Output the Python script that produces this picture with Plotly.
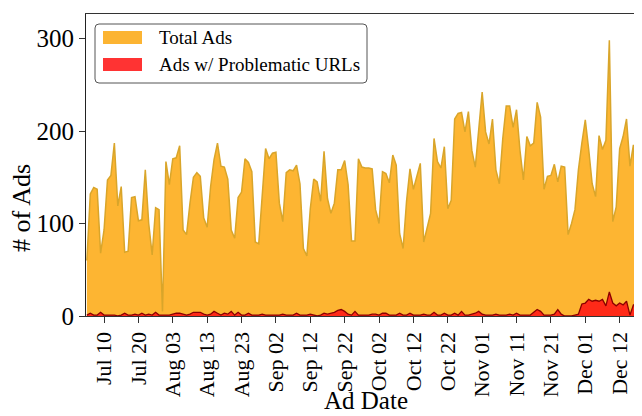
import plotly.graph_objects as go

# daily ad counts, one value per collected day (a few days missing, so x is the day index)
TOTAL_ADS = [
    60, 132, 139, 137, 68, 93, 147, 152, 187, 119,
    140, 69, 70, 128, 129, 103, 104, 158, 100, 66,
    117, 115, 5, 167, 142, 170, 171, 184, 93, 88,
    122, 150, 155, 151, 106, 96, 140, 169, 187, 162,
    161, 148, 93, 84, 128, 134, 170, 166, 156, 80,
    78, 127, 181, 170, 176, 177, 122, 102, 155, 158,
    157, 163, 143, 73, 65, 116, 148, 145, 124, 178,
    127, 111, 122, 158, 158, 168, 142, 81, 81, 170,
    161, 160, 160, 159, 115, 100, 156, 154, 144, 174,
    163, 89, 73, 124, 159, 137, 150, 165, 80, 96,
    111, 192, 167, 160, 183, 116, 125, 213, 219, 220,
    199, 221, 179, 161, 203, 242, 199, 186, 213, 158,
    143, 192, 227, 227, 204, 223, 179, 147, 194, 184,
    187, 231, 215, 137, 151, 152, 164, 145, 162, 161,
    88, 100, 115, 158, 187, 212, 180, 143, 129, 195,
    180, 190, 298, 102, 118, 181, 194, 213, 162, 185,
    129, 124, 140,
]

PROBLEM_ADS = [
    1, 3, 1, 1, 4, 1, 1, 1, 1, 0,
    1, 3, 1, 1, 2, 1, 3, 1, 2, 1,
    4, 1, 1, 1, 1, 2, 3, 3, 2, 1,
    2, 4, 4, 4, 2, 1, 2, 5, 3, 1,
    3, 2, 5, 1, 4, 1, 1, 3, 1, 1,
    1, 2, 1, 1, 1, 1, 1, 2, 1, 1,
    1, 3, 1, 1, 1, 2, 1, 0, 1, 3,
    2, 3, 4, 6, 7, 5, 2, 1, 5, 1,
    1, 1, 1, 2, 2, 1, 3, 3, 1, 1,
    1, 3, 1, 1, 3, 1, 1, 1, 2, 1,
    1, 4, 1, 1, 3, 1, 1, 3, 1, 5,
    1, 1, 2, 3, 5, 2, 1, 1, 1, 2,
    1, 1, 1, 2, 1, 3, 1, 1, 1, 1,
    4, 7, 5, 1, 1, 1, 2, 7, 2, 0,
    0, 0, 1, 2, 13, 14, 18, 16, 17, 16,
    18, 11, 26, 14, 11, 14, 12, 16, 1, 12,
    12, 3, 1,
]

TICK_POS = [5, 15, 25, 35, 45, 55, 65, 75, 85, 95, 105, 115, 125, 135, 145, 155]
TICK_LABELS = ["Jul 10", "Jul 20", "Aug 03", "Aug 13", "Aug 23", "Sep 02", "Sep 12",
               "Sep 22", "Oct 02", "Oct 12", "Oct 22", "Nov 01", "Nov 11", "Nov 21",
               "Dec 01", "Dec 12"]

SERIF = "Liberation Serif, Times New Roman, serif"
ORANGE_FILL = "#FDB532"
ORANGE_LINE = "#D9A52A"
RED_FILL = "#FF2A18"
RED_LINE = "#8B0000"

# the page body adds an 8px offset, so the figure is drawn 8px smaller
OFF = 8
W, H = 642 - OFF, 416 - OFF
# plot area in page pixels, used to place the hand-drawn legend
L, R, T, B = 86, 642, 14, 316


def px(x):
    return (x - L) / (R - L)


def py(y):
    return (B - y) / (B - T)


def rounded_box(x0, y0, x1, y1, r=4):
    rx, ry = r / (R - L), r / (B - T)
    a, b, c, d = px(x0), py(y1), px(x1), py(y0)
    return (f"M {a+rx},{b} L {c-rx},{b} Q {c},{b} {c},{b+ry} "
            f"L {c},{d-ry} Q {c},{d} {c-rx},{d} L {a+rx},{d} "
            f"Q {a},{d} {a},{d-ry} L {a},{b+ry} Q {a},{b} {a+rx},{b} Z")


x = list(range(len(TOTAL_ADS)))

fig = go.Figure()
fig.add_trace(go.Scatter(
    x=x, y=TOTAL_ADS, mode="lines", fill="tozeroy",
    fillcolor=ORANGE_FILL, line=dict(color=ORANGE_LINE, width=1.5),
    name="Total Ads", showlegend=False,
))
fig.add_trace(go.Scatter(
    x=x, y=PROBLEM_ADS, mode="lines", fill="tozeroy",
    fillcolor=RED_FILL, line=dict(color=RED_LINE, width=1.3),
    name="Ads w/ Problematic URLs", showlegend=False,
))

# legend box + patches
shapes = [
    dict(type="path", xref="paper", yref="paper", path=rounded_box(95, 24, 367, 83),
         fillcolor="rgba(255,255,255,0.85)", line=dict(color="#555", width=1)),
    dict(type="rect", xref="paper", yref="paper", x0=px(103), x1=px(142),
         y0=py(44), y1=py(31), fillcolor="#FCB432", line=dict(width=0)),
    dict(type="rect", xref="paper", yref="paper", x0=px(103), x1=px(142),
         y0=py(71), y1=py(58), fillcolor="#FF3333", line=dict(width=0)),
]
annotations = [
    dict(text="Total Ads", x=px(157), y=py(38), xref="paper", yref="paper",
         xanchor="left", yanchor="middle", showarrow=False,
         font=dict(family=SERIF, size=19, color="black")),
    dict(text="Ads w/ Problematic URLs", x=px(157), y=py(65), xref="paper", yref="paper",
         xanchor="left", yanchor="middle", showarrow=False,
         font=dict(family=SERIF, size=19, color="black")),
    dict(text="Ad Date", x=px(366), y=py(400), xref="paper", yref="paper",
         xanchor="center", yanchor="middle", showarrow=False,
         font=dict(family=SERIF, size=25, color="black")),
    dict(text="# of Ads", x=px(22), y=py(208), xref="paper", yref="paper",
         xanchor="center", yanchor="middle", showarrow=False, textangle=-90,
         font=dict(family=SERIF, size=26, color="black")),
]

fig.update_layout(
    width=W, height=H,
    margin=dict(l=L - OFF, r=0, t=T - OFF, b=416 - B),
    plot_bgcolor="white", paper_bgcolor="white",
    shapes=shapes, annotations=annotations,
    font=dict(family=SERIF, color="black"),
    xaxis=dict(
        range=[-0.25, 161.5], tickvals=TICK_POS, ticktext=TICK_LABELS,
        tickangle=-90, tickfont=dict(family=SERIF, size=22, color="black"),
        ticks="outside", ticklen=6, tickwidth=1.2, tickcolor="#333",
        showgrid=False, zeroline=False,
        showline=True, linecolor="#333", linewidth=1.2, mirror=True,
    ),
    yaxis=dict(
        range=[0, 326.5], tickvals=[0, 100, 200, 300],
        tickfont=dict(family=SERIF, size=25, color="black"),
        ticks="outside", ticklen=6, tickwidth=1.2, tickcolor="#333",
        showgrid=False, zeroline=False,
        showline=True, linecolor="#222", linewidth=1.2,
    ),
)

fig.write_html("out.html")
